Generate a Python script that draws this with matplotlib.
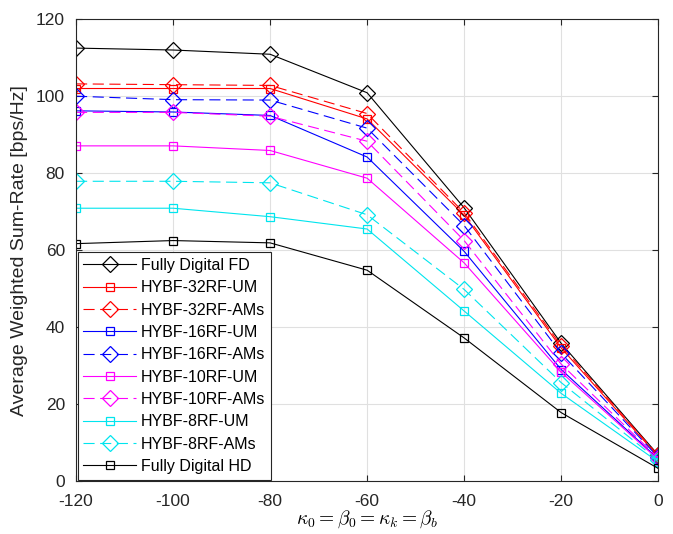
import matplotlib
matplotlib.use("Agg")
import matplotlib.pyplot as plt

# x axis: kappa_0 = beta_0 = kappa_k = beta_b (dB)
x = [-120, -100, -80, -60, -40, -20, 0]

fd = [112.5, 112.0, 110.9, 100.9, 71.0, 35.8, 6.8]
rf32_um = [102.0, 102.0, 102.0, 94.1, 69.1, 34.6, 6.4]
rf32_am = [103.2, 103.0, 102.8, 95.5, 69.7, 35.2, 6.7]
rf16_um = [96.2, 95.9, 95.0, 84.2, 59.7, 29.0, 5.8]
rf16_am = [100.0, 99.1, 99.0, 91.7, 66.4, 33.2, 6.2]
rf10_um = [87.1, 87.1, 85.9, 78.7, 56.7, 28.3, 5.6]
rf10_am = [95.8, 95.8, 94.8, 88.3, 62.5, 30.4, 6.0]
rf8_um = [70.9, 70.9, 68.7, 65.5, 44.2, 22.8, 5.0]
rf8_am = [77.9, 77.9, 77.5, 69.2, 49.8, 25.6, 5.4]
hd = [61.7, 62.5, 61.9, 54.8, 37.2, 17.8, 3.3]

series = [
    ("Fully Digital FD", fd, "k", "-", "D"),
    ("HYBF-32RF-UM", rf32_um, "#ff0000", "-", "s"),
    ("HYBF-32RF-AMs", rf32_am, "#ff0000", "--", "D"),
    ("HYBF-16RF-UM", rf16_um, "#0000ff", "-", "s"),
    ("HYBF-16RF-AMs", rf16_am, "#0000ff", "--", "D"),
    ("HYBF-10RF-UM", rf10_um, "#ff00ff", "-", "s"),
    ("HYBF-10RF-AMs", rf10_am, "#ff00ff", "--", "D"),
    ("HYBF-8RF-UM", rf8_um, "#00e5ee", "-", "s"),
    ("HYBF-8RF-AMs", rf8_am, "#00e5ee", "--", "D"),
    ("Fully Digital HD", hd, "k", "-", "s"),
]

plt.rcParams["font.family"] = ["Liberation Sans", "DejaVu Sans"]
plt.rcParams["mathtext.fontset"] = "cm"
plt.rcParams["axes.unicode_minus"] = False

fig = plt.figure(figsize=(6.73, 5.34), dpi=100)
ax = fig.add_axes([0.113, 0.099, 0.865, 0.865])

for label, y, color, ls, mk in series:
    ms = 8.5 if mk == "D" else 6
    ax.plot(x, y, color=color, linestyle=ls, linewidth=0.8, marker=mk,
            markersize=ms, markerfacecolor="none", markeredgecolor=color,
            markeredgewidth=0.9, label=label, dashes=(10, 5) if ls == "--" else (None, None))

ax.set_xlim(-120, 0)
ax.set_ylim(0, 120)
ax.set_xticks(x)
ax.set_yticks(range(0, 121, 20))
ax.grid(True, color="#e0e0e0", linewidth=0.8)
ax.set_axisbelow(True)
ax.tick_params(direction="in", top=True, right=True, labelsize=12.5, length=4,
               color="#262626", labelcolor="#262626")
ax.tick_params(axis="x", pad=9)
ax.tick_params(axis="y", pad=8)
for sp in ax.spines.values():
    sp.set_color("#262626")
    sp.set_linewidth(0.8)

ax.set_ylabel("Average Weighted Sum-Rate [bps/Hz]", fontsize=14, color="#262626", labelpad=6)
ax.set_xlabel(r"$\kappa_0=\beta_0=\kappa_k=\beta_b$", fontsize=14, labelpad=0)

leg = ax.legend(loc="lower left", bbox_to_anchor=(0.0, 0.0), fontsize=11.5,
                handlelength=3.3, handletextpad=0.3, labelspacing=0.46,
                borderpad=0.35, borderaxespad=0.1, fancybox=False,
                framealpha=1, edgecolor="#262626")
leg.get_frame().set_linewidth(0.8)

fig.savefig("out.png", dpi=100)
